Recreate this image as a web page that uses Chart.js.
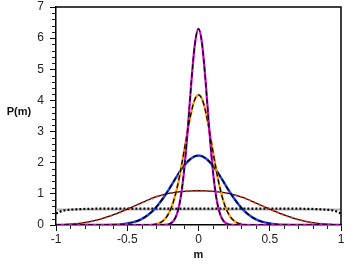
<!DOCTYPE html>
<html>
<head>
<meta charset="utf-8">
<script src="https://cdn.jsdelivr.net/npm/chart.js@4.4.1/dist/chart.umd.min.js"></script>
<style>
  html, body { margin: 0; padding: 0; background: #fff; }
  #wrap { width: 353px; height: 268px; }
</style>
</head>
<body>
<div id="wrap"><canvas id="pmChart"></canvas></div>
<script>
// m grid for the wide curves
const mWide = [-1, -0.95, -0.9, -0.85, -0.8, -0.75, -0.7, -0.65, -0.6, -0.55, -0.5,
  -0.45, -0.4, -0.35, -0.3, -0.25, -0.2, -0.15, -0.1, -0.05, 0,
  0.05, 0.1, 0.15, 0.2, 0.25, 0.3, 0.35, 0.4, 0.45, 0.5,
  0.55, 0.6, 0.65, 0.7, 0.75, 0.8, 0.85, 0.9, 0.95, 1];

// m grid for the narrow peaks
const mNarrow = [-1, -0.4, -0.35, -0.325, -0.3, -0.275, -0.25, -0.225, -0.2, -0.175, -0.15,
  -0.125, -0.1, -0.075, -0.05, -0.025, 0, 0.025, 0.05, 0.075, 0.1,
  0.125, 0.15, 0.175, 0.2, 0.225, 0.25, 0.275, 0.3, 0.325, 0.35, 0.4, 1];

const pFlat = [0.37, 0.46, 0.49, 0.505, 0.515, 0.52, 0.525, 0.525, 0.525, 0.525, 0.525,
  0.525, 0.525, 0.525, 0.525, 0.525, 0.525, 0.525, 0.525, 0.525, 0.525,
  0.525, 0.525, 0.525, 0.525, 0.525, 0.525, 0.525, 0.525, 0.525, 0.525,
  0.525, 0.525, 0.525, 0.525, 0.52, 0.515, 0.505, 0.49, 0.46, 0.37];

const pRed = [0, 0.01, 0.025, 0.045, 0.075, 0.12, 0.175, 0.245, 0.325, 0.415, 0.51,
  0.61, 0.71, 0.81, 0.9, 0.97, 1.02, 1.055, 1.08, 1.095, 1.1,
  1.095, 1.08, 1.055, 1.02, 0.97, 0.9, 0.81, 0.71, 0.61, 0.51,
  0.415, 0.325, 0.245, 0.175, 0.12, 0.075, 0.045, 0.025, 0.01, 0];

const pBlue = [0, 0, 0, 0, 0, 0, 0.001, 0.003, 0.009, 0.021, 0.047,
  0.098, 0.189, 0.337, 0.556, 0.85, 1.2, 1.58, 1.91, 2.145, 2.23,
  2.145, 1.91, 1.58, 1.2, 0.85, 0.556, 0.337, 0.189, 0.098, 0.047,
  0.021, 0.009, 0.003, 0.001, 0, 0, 0, 0, 0, 0];

const pOrange = [0, 0.001, 0.005, 0.012, 0.029, 0.063, 0.131, 0.253, 0.456, 0.766, 1.2,
  1.76, 2.4, 3.06, 3.64, 4.04, 4.18, 4.04, 3.64, 3.06, 2.4,
  1.76, 1.2, 0.766, 0.456, 0.253, 0.131, 0.063, 0.029, 0.012, 0.005, 0.001, 0];

const pMagenta = [0, 0, 0, 0, 0, 0.001, 0.003, 0.011, 0.041, 0.133, 0.37,
  0.88, 1.79, 3.1, 4.6, 5.82, 6.3, 5.82, 4.6, 3.1, 1.79,
  0.88, 0.37, 0.133, 0.041, 0.011, 0.003, 0.001, 0, 0, 0, 0, 0];

const refLineM = [-1, 1];
const refLineP = [0.5, 0.5];

const yTicks = [0, 1, 2, 3, 4, 5, 6, 7];
const xTicks = [-1, -0.5, 0, 0.5, 1];
const xTickLabels = ['-1', '-0.5', '0', '0.5', '1'];

function pts(xs, ys) {
  return xs.map((x, i) => ({ x: x, y: ys[i] }));
}

function curve(xs, ys, color, width, dash, order) {
  return {
    data: pts(xs, ys),
    borderColor: color,
    borderWidth: width,
    borderDash: dash,
    pointRadius: 0,
    fill: false,
    cubicInterpolationMode: 'monotone',
    order: order
  };
}

// frame, minor ticks and axis titles
const decorPlugin = {
  id: 'decor',
  afterDraw(chart) {
    const ctx = chart.ctx;
    const a = chart.chartArea;
    const xs = chart.scales.x;
    const ys = chart.scales.y;
    ctx.save();
    ctx.setLineDash([]);
    ctx.strokeStyle = '#000';
    ctx.lineWidth = 1.5;
    ctx.beginPath();
    ctx.moveTo(a.left, a.top);
    ctx.lineTo(a.right, a.top);
    ctx.lineTo(a.right, a.bottom);
    ctx.stroke();

    ctx.lineWidth = 1;
    ctx.strokeStyle = '#222';
    ctx.beginPath();
    for (let k = 0; k <= 35; k++) {
      if (k % 5 === 0) continue;
      const py = Math.round(ys.getPixelForValue(k * 0.2)) + 0.5;
      ctx.moveTo(a.left - 4, py);
      ctx.lineTo(a.left - 0.5, py);
    }
    for (let k = -10; k <= 10; k++) {
      if (k % 5 === 0) continue;
      const px = Math.round(xs.getPixelForValue(k * 0.1)) + 0.5;
      ctx.moveTo(px, a.bottom + 0.5);
      ctx.lineTo(px, a.bottom + 4);
    }
    ctx.stroke();

    ctx.fillStyle = '#111';
    ctx.font = 'bold 11px "Liberation Sans", Arial, sans-serif';
    ctx.textAlign = 'center';
    ctx.textBaseline = 'middle';
    ctx.fillText('P(m)', 19, 112);
    ctx.fillText('m', (a.left + a.right) / 2, 255);
    ctx.restore();
  }
};

const ctx = document.getElementById('pmChart').getContext('2d');
new Chart(ctx, {
  type: 'line',
  data: {
    datasets: [
      curve(mNarrow, pMagenta, '#000', 1.3, [5, 3], 0),
      curve(mNarrow, pMagenta, '#d400d4', 2.2, [], 1),
      curve(mNarrow, pOrange, '#000', 1.3, [5, 3], 2),
      curve(mNarrow, pOrange, '#ff9a00', 2.2, [], 3),
      curve(mWide, pBlue, '#000', 1.5, [5, 3], 4),
      curve(mWide, pBlue, '#1a3cff', 2.4, [], 5),
      curve(mWide, pRed, '#ff3010', 1.8, [2, 3], 6),
      curve(mWide, pRed, '#000', 1.3, [], 7),
      curve(mWide, pFlat, '#000', 2.2, [2, 2], 8),
      curve(refLineM, refLineP, '#b4b4b4', 2, [], 9)
    ]
  },
  options: {
    responsive: true,
    maintainAspectRatio: false,
    animation: false,
    layout: { padding: { top: 7, right: 12, left: 0, bottom: 0 } },
    plugins: {
      legend: { display: false },
      tooltip: { enabled: false }
    },
    scales: {
      x: {
        type: 'linear',
        min: -1,
        max: 1,
        afterFit: s => { s.height = 43; s.paddingLeft = 0; s.paddingRight = 0; },
        afterBuildTicks: s => { s.ticks = xTicks.map(v => ({ value: v })); },
        grid: { drawOnChartArea: false, drawTicks: true, tickLength: 6, color: '#000' },
        border: { display: true, color: '#000', width: 1.5 },
        ticks: {
          padding: 1,
          color: '#222',
          maxRotation: 0,
          callback: (v, i) => xTickLabels[i],
          font: { family: '"Liberation Sans", Arial, sans-serif', size: 12 }
        }
      },
      y: {
        min: 0,
        max: 7,
        afterFit: s => { s.width = 56; s.paddingTop = 0; s.paddingBottom = 0; },
        afterBuildTicks: s => { s.ticks = yTicks.map(v => ({ value: v })); },
        grid: { drawOnChartArea: false, drawTicks: true, tickLength: 6, color: '#000' },
        border: { display: true, color: '#000', width: 1.5 },
        ticks: {
          padding: 6,
          color: '#222',
          font: { family: '"Liberation Sans", Arial, sans-serif', size: 12 }
        }
      }
    }
  },
  plugins: [decorPlugin]
});
</script>
</body>
</html>
